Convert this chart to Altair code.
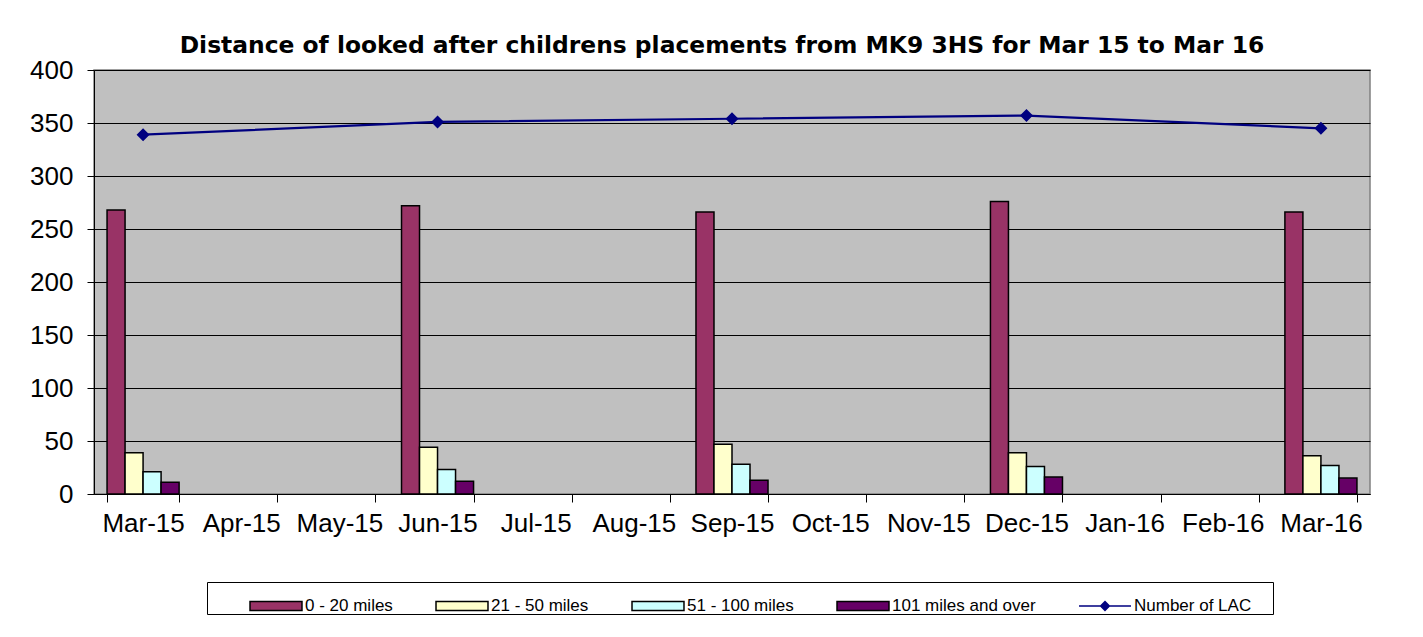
import altair as alt
import pandas as pd

months = ["Mar-15", "Apr-15", "May-15", "Jun-15", "Jul-15", "Aug-15", "Sep-15",
          "Oct-15", "Nov-15", "Dec-15", "Jan-16", "Feb-16", "Mar-16"]
quarters = ["Mar-15", "Jun-15", "Sep-15", "Dec-15", "Mar-16"]
series_names = ["0 - 20 miles", "21 - 50 miles", "51 - 100 miles", "101 miles and over"]
miles_0_20 = [268, 272, 266, 276, 266]
miles_21_50 = [39, 44, 47, 39, 36]
miles_51_100 = [21, 23, 28, 26, 27]
miles_101_plus = [11, 12, 13, 16, 15]
lac_name = "Number of LAC"
number_of_lac = [339, 351, 354, 357, 345]

bar_colors = ["#993366", "#FFFFCC", "#CCFFFF", "#660066"]
line_color = "#000080"

rows = []
for name, vals in zip(series_names, [miles_0_20, miles_21_50, miles_51_100, miles_101_plus]):
    for q, v in zip(quarters, vals):
        rows.append({"month": q, "series": name, "value": v})
bars_df = pd.DataFrame(rows)
line_df = pd.DataFrame({"month": quarters, "series": lac_name, "value": number_of_lac})

all_series = series_names + [lac_name]
rect_path = "M-1.13,-0.2H1.13V0.2H-1.13Z"
line_path = "M-1.13,0H1.13M0,-0.19L0.19,0L0,0.19L-0.19,0Z"

FONT = "Liberation Sans"

legend = alt.Legend(
    title="\u00a0", titleOrient="right", titlePadding=22, titleFontSize=10,
    orient="none", legendX=113, legendY=512, direction="horizontal",
    columns=5, columnPadding=-4, padding=0, symbolOffset=45,
    strokeColor="black", fillColor="white",
    symbolSize=2116, symbolStrokeWidth=1.5, labelFont=FONT, labelFontSize=17,
    labelColor="black", labelOffset=5,
)

color_scale = alt.Scale(domain=all_series, range=bar_colors + [line_color])
stroke_scale = alt.Scale(domain=all_series, range=["black"] * 4 + [line_color])

x_enc = alt.X(
    "month:N", sort=months,
    scale=alt.Scale(domain=months, paddingInner=0.266, paddingOuter=0.133),
    axis=alt.Axis(title=None, labelAngle=0, tickBand="extent", labelFont=FONT,
                  labelFontSize=26, labelColor="black", tickColor="black",
                  tickSize=8, domainColor="black", labelPadding=8, grid=False),
)
y_enc = alt.Y(
    "value:Q",
    scale=alt.Scale(domain=[0, 400], nice=False),
    axis=alt.Axis(title=None, values=list(range(0, 401, 50)), labelFont=FONT,
                  labelFontSize=26, labelColor="black", tickColor="black",
                  tickSize=7, labelPadding=14, domainColor="black",
                  gridColor="black", gridWidth=1, gridOpacity=1),
)

bars = alt.Chart(bars_df).mark_bar(strokeWidth=1.5, opacity=1).encode(
    x=x_enc,
    y=y_enc,
    xOffset=alt.XOffset("series:N", sort=series_names,
                        scale=alt.Scale(domain=series_names, paddingInner=0, paddingOuter=0)),
    color=alt.Color("series:N", scale=color_scale, legend=legend),
    stroke=alt.Stroke("series:N", scale=stroke_scale, legend=legend),
)

line = alt.Chart(line_df).mark_line(strokeWidth=2.2).encode(
    x=alt.X("month:N", sort=months),
    y=alt.Y("value:Q"),
    stroke=alt.Stroke("series:N", scale=stroke_scale, legend=legend),
)

points = alt.Chart(line_df).mark_point(filled=True, opacity=1, size=4680).encode(
    x=alt.X("month:N", sort=months),
    y=alt.Y("value:Q"),
    color=alt.Color("series:N", scale=color_scale, legend=legend),
    shape=alt.Shape("series:N", scale=alt.Scale(domain=all_series,
                    range=[rect_path] * 4 + [line_path]), legend=legend),
)

chart = alt.layer(bars, line, points).properties(
    width=1276, height=424,
    title=alt.TitleParams(
        "Distance of looked after childrens placements from MK9 3HS for Mar 15 to Mar 16",
        font="DejaVu Sans", fontSize=23.4, fontWeight="bold", color="black", anchor="middle",
        dx=-10, offset=-19, baseline="alphabetic"),
    autosize=alt.AutoSizeParams(type="none"),
    padding={"left": 86, "top": 62, "right": 45, "bottom": 135},
    background="white",
).configure_view(
    fill="#C0C0C0", stroke="#808080", strokeWidth=1.5
)

chart.save("out.html", embed_options={"renderer": "svg", "actions": False})
